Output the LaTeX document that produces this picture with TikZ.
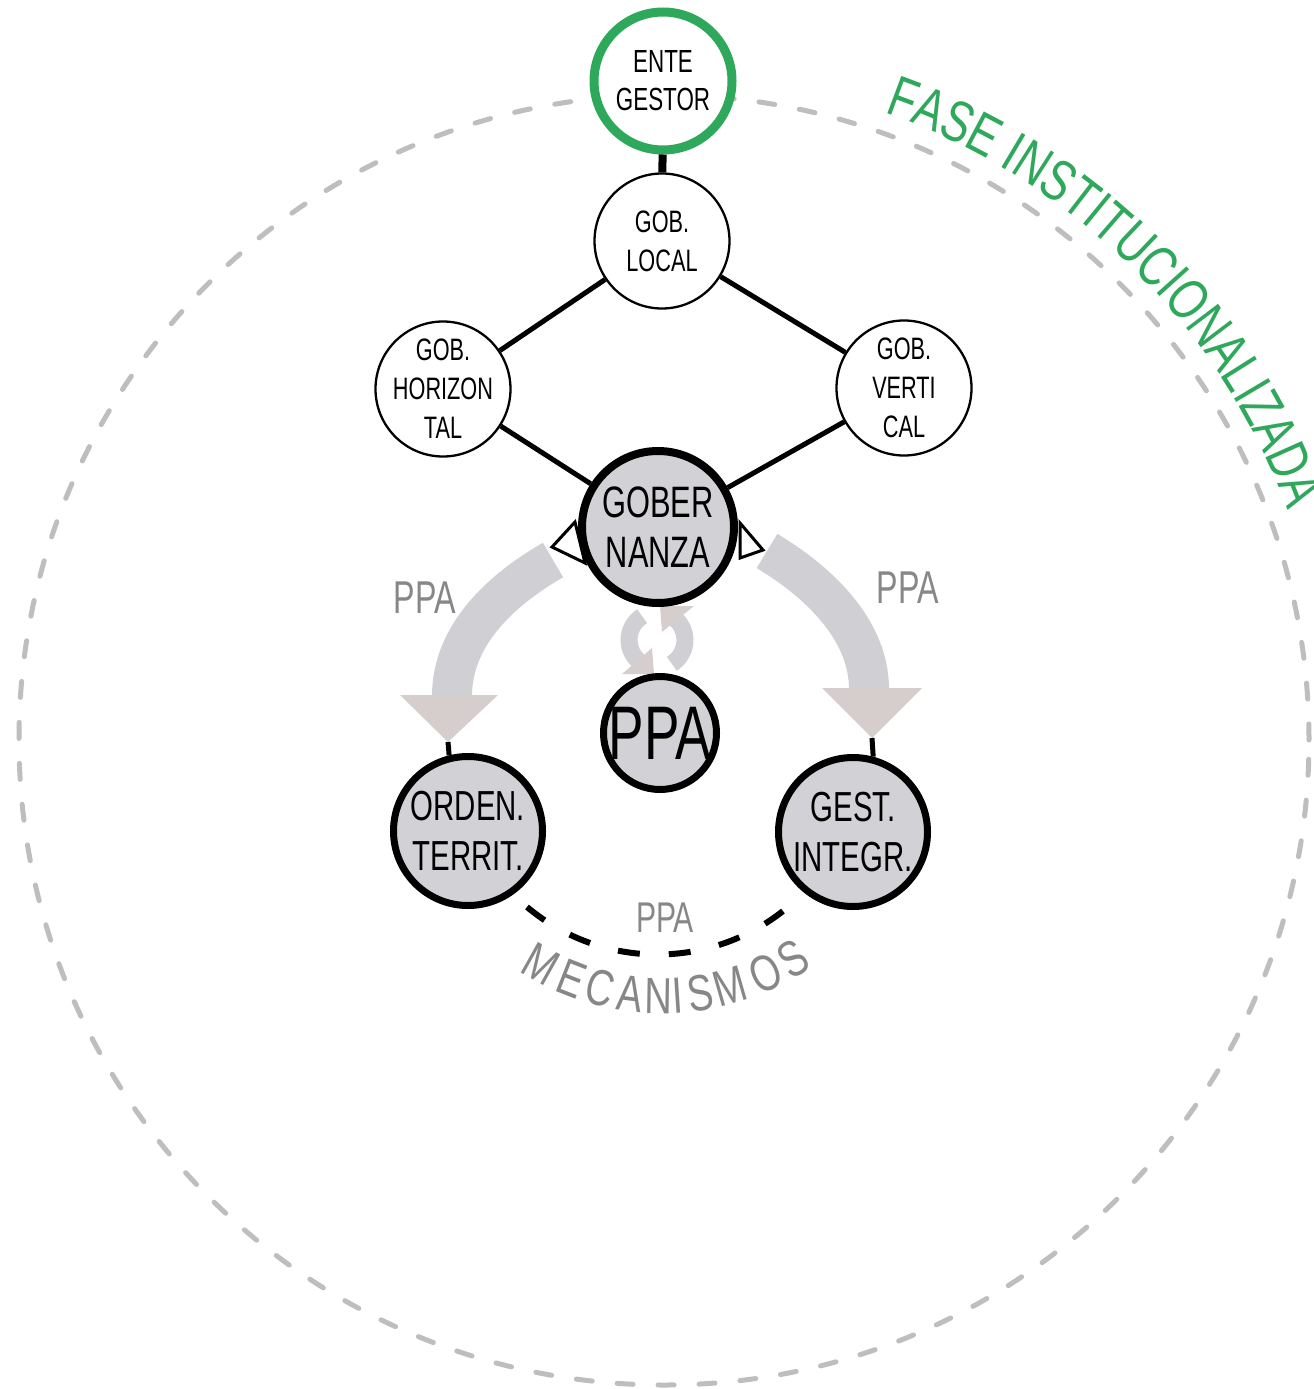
\documentclass[tikz,border=0pt]{standalone}
\usepackage{fontspec}
\setmainfont{Liberation Sans}
\newfontfamily\cf{Liberation Sans}[FakeStretch=0.7]
\newfontfamily\ff{Liberation Sans}[FakeStretch=0.75]
\usetikzlibrary{calc,decorations.text}
\definecolor{fgreen}{RGB}{46,168,90}
\definecolor{nodegray}{RGB}{210,210,214}
\definecolor{bandgray}{RGB}{208,208,212}
\definecolor{headgray}{RGB}{214,206,204}
\definecolor{labgray}{RGB}{135,135,135}
\definecolor{dashgray}{RGB}{190,190,190}
\begin{document}
\begin{tikzpicture}[x=1pt,y=1pt,
  circbase/.style={circle, inner sep=0pt},
  whitenode/.style={circbase, draw=black, line width=2.3pt, fill=white, minimum size=135pt},
  greennode/.style={circbase, draw=fgreen, line width=9pt, fill=white, minimum size=138pt},
  graynode/.style={circbase, draw=black, line width=7pt, fill=nodegray},
  stxt/.style={align=center, inner sep=0pt, text=black, font=\cf\fontsize{31}{39}\selectfont},
  etxt/.style={align=center, inner sep=0pt, text=black, font=\cf\fontsize{32}{38}\selectfont},
  gtxt/.style={align=center, inner sep=0pt, text=black, font=\cf\fontsize{44}{50}\selectfont},
  otxt/.style={align=center, inner sep=0pt, text=black, font=\cf\fontsize{42}{50}\selectfont},
  ptxt/.style={inner sep=0pt, text=black, font=\cf\fontsize{76}{76}\selectfont},
  glabel/.style={inner sep=0pt, text=labgray, font=\cf\fontsize{46}{46}\selectfont},
  meclet/.style={inner sep=0pt, text=labgray, font=\ff\fontsize{51}{51}\selectfont},
  conn/.style={draw=black, line width=5pt},
  thickconn/.style={draw=black, line width=8pt},
  ticklink/.style={draw=black, line width=5pt},
  bigdash/.style={draw=dashgray, line width=5pt, dash pattern=on 16pt off 25pt, line cap=round},
  mecdash/.style={draw=black, line width=6pt, dash pattern=on 22pt off 29pt},
  grayband/.style={draw=bandgray, line width=40pt},
  cycband/.style={draw=bandgray, line width=17pt},
  smalltri/.style={draw=black, line width=3pt, fill=white, line join=miter}
]
\useasboundingbox[fill=white] (0,0) rectangle (1314,-1389);

% outer dashed circle
\coordinate (O) at (664,-740);
\draw[bigdash] (O) circle[radius=645];

% curved title
\path[decorate, decoration={text along path, text color=fgreen,
  text={|\ff\fontsize{58}{58}\selectfont|FASE INSTITUCIONALIZADA}}]
  ($(O)+(70.6:665)$) arc[start angle=70.6, end angle=-10, radius=665];

% MECANISMOS along an arc
\coordinate (M0) at (662,-748);
\foreach \ch/\a [count=\i] in {M/240.7,E/248.6,C/255.5,A/262.6,N/269.1,I/273.7,S/278.8,M/286,O/294.7,S/301.8}
  \node[meclet, rotate=\a+90] (mec\i) at ($(M0)+(\a:248)$) {\ch};

% big gray curved arrows
\coordinate (bLs) at (553,-560);
\coordinate (bLe) at (452,-696);
\draw[grayband] (bLs) .. controls (501,-590) and (452,-635) .. (bLe);
\coordinate (tipL) at (448,-742);
\fill[headgray] (400,-695) -- (498,-695) -- (tipL) -- cycle;

\coordinate (bRs) at (767,-551);
\coordinate (bRe) at (869,-689);
\draw[grayband] (bRs) .. controls (819,-582) and (869,-630) .. (bRe);
\coordinate (tipR) at (872,-738);
\fill[headgray] (822,-688) -- (922,-688) -- (tipR) -- cycle;

% cycle symbol
\coordinate (C) at (657,-640);
\draw[cycband] ($(C)+(122:28)$) arc[start angle=122, end angle=228, radius=28];
\fill[headgray] (622,-674) -- (654,-674) -- (652,-648) -- cycle;
\draw[cycband] ($(C)+(-58:28)$) arc[start angle=-58, end angle=48, radius=28];
\fill[headgray] (660,-606) -- (694,-606) -- (662,-632) -- cycle;

% small open triangles beside GOBERNANZA
\draw[smalltri] (552,-547) -- (575,-522) -- (585,-563) -- cycle;
\draw[smalltri] (740,-523) -- (763,-550) -- (740,-558) -- cycle;

% nodes
\node[greennode, label={[etxt]center:{ENTE\\GESTOR}}] (ente) at (663,-81) {};
\node[whitenode, label={[stxt]center:{GOB.\\LOCAL}}] (local) at (662,-241) {};
\node[whitenode, label={[stxt]center:{GOB.\\HORIZON\\TAL}}] (horiz) at (443,-389) {};
\node[whitenode, label={[stxt]center:{GOB.\\VERTI\\CAL}}] (vert) at (904,-388) {};
\node[graynode, line width=8pt, minimum size=152pt, label={[gtxt]center:{GOBER\\NANZA}}] (gober) at (658,-527) {};
\node[graynode, minimum size=113pt, label={[ptxt]center:PPA}] (ppa) at (660,-733) {};
\node[graynode, minimum size=149pt, label={[otxt]center:{ORDEN.\\TERRIT.}}] (orden) at (468,-831) {};
\node[graynode, minimum size=149pt, label={[otxt]center:{GEST.\\INTEGR.}}] (gest) at (853,-832) {};

% connectors
\draw[thickconn] (ente) -- (local);
\draw[conn] (local) -- (horiz);
\draw[conn] (local) -- (vert);
\draw[conn] (horiz) -- (gober);
\draw[conn] (vert) -- (gober);
\draw[ticklink] (tipL) -- (orden.104);
\draw[ticklink] (tipR) -- (gest.75);

% dashed mechanism link
\coordinate (mA) at (527,-907);
\draw[mecdash] (mA) arc[start angle=230, end angle=309, radius=203];

% gray labels
\node[glabel] (pL) at (425,-598) {PPA};
\node[glabel] (pR) at (908,-588) {PPA};
\node[glabel, font=\cf\fontsize{43}{43}\selectfont] (pB) at (665,-918) {PPA};
\end{tikzpicture}
\end{document}
